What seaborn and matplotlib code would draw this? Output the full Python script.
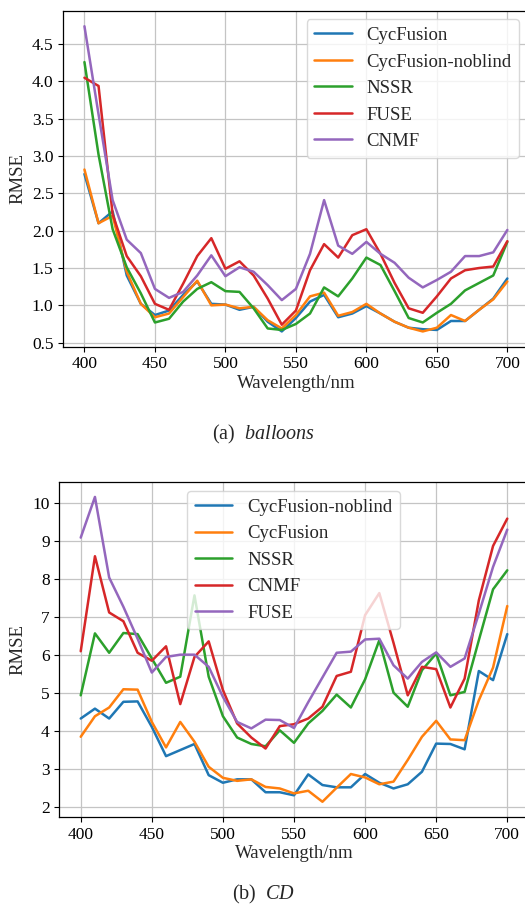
import numpy as np
import pandas as pd
import matplotlib
matplotlib.use("Agg")
import matplotlib.pyplot as plt
import seaborn as sns

# Wavelength samples (nm)
wavelength = list(range(400, 701, 10))

# ---- balloons: RMSE per band ----
bal_cycfusion = [2.76, 2.10, 2.26, 1.40, 1.02, 0.87, 0.93, 1.14, 1.32, 1.02,
                 1.01, 0.94, 0.98, 0.78, 0.65, 0.83, 1.05, 1.14, 0.84, 0.89,
                 0.99, 0.89, 0.78, 0.70, 0.68, 0.67, 0.79, 0.79, 0.94, 1.09, 1.36]
bal_noblind = [2.82, 2.10, 2.20, 1.45, 1.02, 0.84, 0.89, 1.11, 1.33, 1.00,
               1.01, 0.96, 0.98, 0.80, 0.69, 0.87, 1.12, 1.17, 0.86, 0.91,
               1.02, 0.89, 0.78, 0.70, 0.65, 0.70, 0.87, 0.79, 0.94, 1.08, 1.32]
bal_nssr = [4.26, 3.02, 2.02, 1.51, 1.16, 0.77, 0.82, 1.05, 1.22, 1.31,
            1.19, 1.18, 0.96, 0.69, 0.67, 0.75, 0.89, 1.24, 1.12, 1.36,
            1.64, 1.54, 1.19, 0.83, 0.77, 0.90, 1.02, 1.20, 1.30, 1.40, 1.85]
bal_fuse = [4.05, 3.94, 2.22, 1.66, 1.39, 1.02, 0.94, 1.29, 1.66, 1.90,
            1.49, 1.59, 1.40, 1.09, 0.74, 0.93, 1.47, 1.82, 1.64, 1.94,
            2.02, 1.69, 1.30, 0.96, 0.90, 1.12, 1.36, 1.47, 1.50, 1.52, 1.86]
bal_cnmf = [4.74, 3.56, 2.41, 1.88, 1.70, 1.22, 1.10, 1.18, 1.40, 1.67,
            1.39, 1.51, 1.45, 1.27, 1.07, 1.22, 1.69, 2.41, 1.80, 1.69,
            1.85, 1.69, 1.57, 1.37, 1.24, 1.34, 1.45, 1.66, 1.66, 1.71, 2.01]

# ---- CD: RMSE per band ----
cd_noblind = [4.32, 4.58, 4.32, 4.76, 4.77, 4.10, 3.33, 3.49, 3.65, 2.83,
              2.63, 2.72, 2.72, 2.38, 2.38, 2.30, 2.85, 2.57, 2.51, 2.51,
              2.86, 2.63, 2.48, 2.59, 2.92, 3.66, 3.65, 3.51, 5.57, 5.33, 6.54]
cd_cycfusion = [3.84, 4.38, 4.61, 5.09, 5.08, 4.23, 3.56, 4.23, 3.71, 3.05,
                2.76, 2.68, 2.72, 2.52, 2.48, 2.35, 2.42, 2.13, 2.50, 2.86,
                2.77, 2.59, 2.66, 3.23, 3.84, 4.26, 3.77, 3.75, 4.80, 5.66, 7.28]
cd_nssr = [4.93, 6.56, 6.05, 6.57, 6.54, 5.90, 5.26, 5.42, 7.56, 5.42,
           4.38, 3.82, 3.65, 3.59, 4.01, 3.68, 4.19, 4.52, 4.95, 4.61,
           5.35, 6.38, 5.00, 4.63, 5.59, 6.03, 4.93, 5.02, 6.38, 7.72, 8.22]
cd_cnmf = [6.09, 8.59, 7.11, 6.88, 6.05, 5.84, 6.22, 4.70, 5.94, 6.35,
           5.07, 4.19, 3.82, 3.53, 4.12, 4.17, 4.32, 4.63, 5.44, 5.55,
           7.04, 7.62, 6.31, 4.93, 5.68, 5.62, 4.61, 5.37, 7.43, 8.86, 9.58]
cd_fuse = [9.08, 10.15, 8.03, 7.26, 6.42, 5.53, 5.94, 6.00, 6.00, 5.68,
           4.89, 4.23, 4.06, 4.29, 4.28, 4.07, 4.75, 5.40, 6.05, 6.08,
           6.40, 6.42, 5.72, 5.37, 5.81, 6.06, 5.68, 5.90, 7.08, 8.31, 9.29]

bal_methods = ["CycFusion", "CycFusion-noblind", "NSSR", "FUSE", "CNMF"]
bal_series = [bal_cycfusion, bal_noblind, bal_nssr, bal_fuse, bal_cnmf]
cd_methods = ["CycFusion-noblind", "CycFusion", "NSSR", "CNMF", "FUSE"]
cd_series = [cd_noblind, cd_cycfusion, cd_nssr, cd_cnmf, cd_fuse]

colors = ["#1f77b4", "#ff7f0e", "#2ca02c", "#d62728", "#9467bd"]


def long_table(methods, series):
    frames = [pd.DataFrame({"Wavelength": wavelength, "RMSE": vals, "Method": m})
              for m, vals in zip(methods, series)]
    return pd.concat(frames, ignore_index=True)


sns.set_style("ticks")
plt.rcParams["font.family"] = ["Liberation Serif", "DejaVu Serif"]
plt.rcParams["mathtext.fontset"] = "custom"
plt.rcParams["mathtext.rm"] = "Liberation Serif"
plt.rcParams["mathtext.it"] = "Liberation Serif:italic"
plt.rcParams["axes.edgecolor"] = "black"
plt.rcParams["xtick.color"] = "black"
plt.rcParams["ytick.color"] = "black"

W, H = 525, 914
fig = plt.figure(figsize=(W / 100, H / 100), dpi=100)


def axes_px(left, top, right, bottom):
    return fig.add_axes([left / W, 1 - bottom / H, (right - left) / W, (bottom - top) / H])


ax1 = axes_px(63.3, 11, 528.5, 346.7)
ax2 = axes_px(59.4, 481.7, 528.6, 817)

panels = [
    (ax1, bal_methods, bal_series, (0.98, 0.975), "upper right"),
    (ax2, cd_methods, cd_series, (0.273, 0.972), "upper left"),
]

for ax, methods, series, anchor, loc in panels:
    df = long_table(methods, series)
    sns.lineplot(data=df, x="Wavelength", y="RMSE", hue="Method",
                 hue_order=methods, palette=dict(zip(methods, colors)),
                 linewidth=1.8, ax=ax)
    ax.grid(True, color="#c4c4c4", linewidth=0.9)
    ax.set_axisbelow(True)
    ax.set_xlabel("Wavelength/nm", fontsize=13.5, labelpad=2)
    ax.set_ylabel("RMSE", fontsize=13.5, labelpad=4)
    ax.tick_params(labelsize=12.5, length=3.5, width=0.8, colors="black")
    ax.set_xticks([400, 450, 500, 550, 600, 650, 700])
    for s in ax.spines.values():
        s.set_linewidth(0.9)
        s.set_color("black")
    ax.legend(loc=loc, bbox_to_anchor=anchor, borderaxespad=0, fontsize=13.5,
              title=None, frameon=True, framealpha=0.8, labelspacing=0.5,
              handlelength=2.0, edgecolor="#d0d0d0")

ax1.set_yticks([0.5, 1.0, 1.5, 2.0, 2.5, 3.0, 3.5, 4.0, 4.5])
ax2.set_yticks([2, 3, 4, 5, 6, 7, 8, 9, 10])

fig.text(263.5 / W, 1 - 434 / H, r"(a)  $balloons$", ha="center", va="center", fontsize=14.5)
fig.text(263.5 / W, 1 - 894 / H, r"(b)  $CD$", ha="center", va="center", fontsize=14.5)

fig.savefig("out.png", dpi=100)
